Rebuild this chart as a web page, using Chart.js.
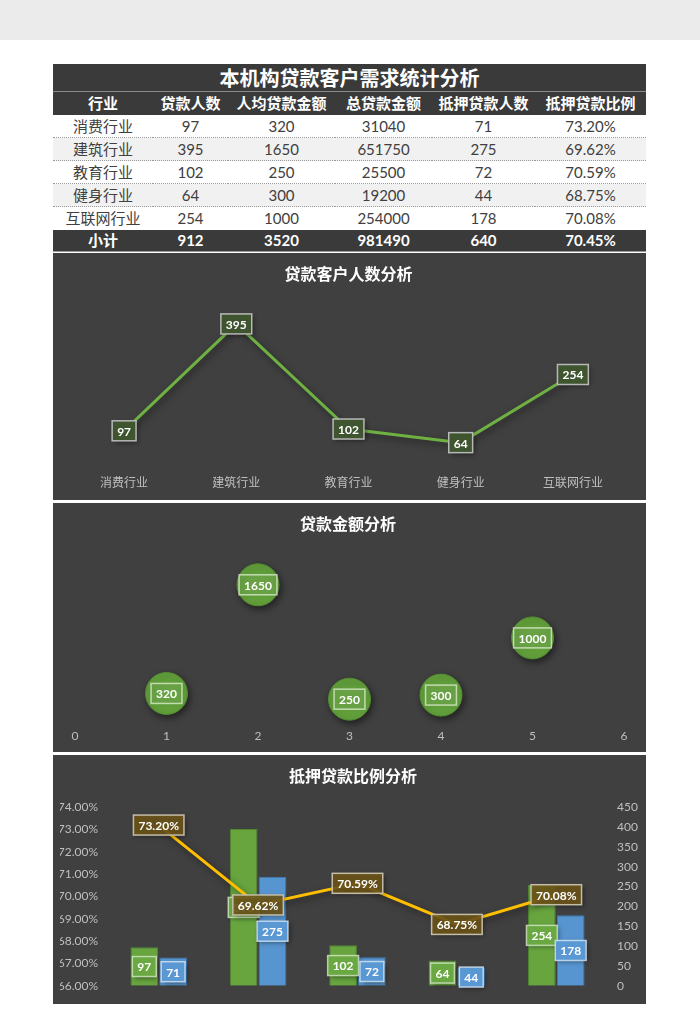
<!DOCTYPE html>
<html>
<head>
<meta charset="utf-8">
<script src="https://cdn.jsdelivr.net/npm/chart.js@4/dist/chart.umd.min.js"></script>
<style>
  body { margin: 0; background: #fff; font-family: Lato, "Noto Sans CJK SC", sans-serif; }
  .topband { height: 40px; background: #ebebeb; }
  .wrap { position: absolute; left: 53px; top: 64px; width: 593px; }
  table { border-collapse: collapse; width: 593px; table-layout: fixed; }
  td, th { padding: 0; text-align: center; white-space: nowrap; line-height: 1; }
  .title td { background: #3a3a3a; color: #fff; font-size: 20px; font-weight: bold; height: 27px; border-bottom: 1px solid #8a8a8a; }
  .head th { background: #3a3a3a; color: #fff; font-size: 15px; height: 23px; }
  .row td { color: #404040; font-size: 15px; height: 22px; border-bottom: 1px dotted #9a9a9a; }
  .row.alt td { background: #f1f1f1; }
  .row.last td { border-bottom: none; height: 23px; }
  .total td { background: #3a3a3a; color: #fff; font-size: 15px; font-weight: bold; height: 21px; border-bottom: 1px solid #9a9a9a; }
  .panel { background: #404040; }
  canvas { display: block; }
</style>
</head>
<body>
<div class="topband"></div>
<div class="wrap">
  <table id="tbl">
    <colgroup>
      <col style="width:100px"><col style="width:75px"><col style="width:107px">
      <col style="width:97px"><col style="width:103px"><col style="width:111px">
    </colgroup>
  </table>
  <div class="panel" style="margin-top:1px"><canvas id="peopleChart" width="593" height="247"></canvas></div>
  <div class="panel" style="margin-top:3px"><canvas id="amountChart" width="593" height="249"></canvas></div>
  <div class="panel" style="margin-top:3px"><canvas id="ratioChart" width="593" height="249"></canvas></div>
</div>
<script>
// data
var industries = ["消费行业", "建筑行业", "教育行业", "健身行业", "互联网行业"];
var loanPeople = [97, 395, 102, 64, 254];
var avgAmount = [320, 1650, 250, 300, 1000];
var totalAmount = [31040, 651750, 25500, 19200, 254000];
var mortgagePeople = [71, 275, 72, 44, 178];
var mortgageRatio = [73.20, 69.62, 70.59, 68.75, 70.08];
var headers = ["行业", "贷款人数", "人均贷款金额", "总贷款金额", "抵押贷款人数", "抵押贷款比例"];
var subtotal = ["小计", "912", "3520", "981490", "640", "70.45%"];
var tableTitle = "本机构贷款客户需求统计分析";

//Build the table
const tbl = document.getElementById('tbl');
let html = '<tr class="title"><td colspan="6">' + tableTitle + '</td></tr>';
html += '<tr class="head">' + headers.map(h => '<th>' + h + '</th>').join('') + '</tr>';
industries.forEach((name, i) => {
  let cls = 'row' + (i % 2 ? ' alt' : '') + (i === industries.length - 1 ? ' last' : '');
  html += '<tr class="' + cls + '"><td>' + name + '</td><td>' + loanPeople[i] + '</td><td>' + avgAmount[i] +
    '</td><td>' + totalAmount[i] + '</td><td>' + mortgagePeople[i] + '</td><td>' + mortgageRatio[i].toFixed(2) + '%</td></tr>';
});
html += '<tr class="total">' + subtotal.map(s => '<td>' + s + '</td>').join('') + '</tr>';
tbl.insertAdjacentHTML('beforeend', html);

Chart.defaults.font.family = 'Lato, "Noto Sans CJK SC", sans-serif';
Chart.defaults.color = '#bfbfbf';

// boxed data labels drawn at the element positions
const boxLabels = {
  id: 'boxLabels',
  afterDatasetsDraw(chart) {
    const ctx = chart.ctx;
    chart.data.datasets.forEach((ds, i) => {
      if (!ds.box) return;
      const meta = chart.getDatasetMeta(i);
      meta.data.forEach((el, j) => {
        let raw = ds.data[j];
        let v = (typeof raw === 'object') ? raw.y : raw;
        let text = ds.box.format ? ds.box.format(v) : String(v);
        let x = el.x, y = el.y;
        if (meta.type === 'bar') y = (el.y + el.base) / 2;
        ctx.save();
        ctx.font = 'bold 12px Lato, "Noto Sans CJK SC"';
        let w = ctx.measureText(text).width + 10, h = 20;
        ctx.shadowColor = 'rgba(0,0,0,0.45)';
        ctx.shadowBlur = 5; ctx.shadowOffsetX = 2; ctx.shadowOffsetY = 2;
        ctx.fillStyle = ds.box.fill;
        ctx.fillRect(x - w / 2, y - h / 2, w, h);
        ctx.shadowColor = 'transparent';
        ctx.strokeStyle = ds.box.stroke;
        ctx.lineWidth = 1.5;
        ctx.strokeRect(x - w / 2, y - h / 2, w, h);
        ctx.fillStyle = '#fff';
        ctx.textAlign = 'center';
        ctx.textBaseline = 'middle';
        ctx.fillText(text, x, y + 1);
        ctx.restore();
      });
    });
  }
};

// soft shadow under marks
const markShadow = {
  id: 'markShadow',
  beforeDatasetDraw(chart, args) {
    const ds = chart.data.datasets[args.index];
    chart.ctx.save();
    if (ds.shadow) {
      chart.ctx.shadowColor = 'rgba(0,0,0,0.5)';
      chart.ctx.shadowBlur = 7;
      chart.ctx.shadowOffsetX = 2;
      chart.ctx.shadowOffsetY = 3;
    }
  },
  afterDatasetDraw(chart) {
    chart.ctx.restore();
  }
};

function titleOpts(text, bottom) {
  return {
    display: true, text: text, color: '#fff',
    font: { size: 16, weight: 'bold' },
    padding: { top: 12, bottom: bottom }
  };
}

//Loan people line chart
new Chart(document.getElementById('peopleChart'), {
  type: 'line',
  data: {
    labels: industries,
    datasets: [{
      data: loanPeople,
      borderColor: '#6fb043',
      borderWidth: 3,
      pointRadius: 0,
      tension: 0,
      shadow: true,
      box: { fill: '#3e5530', stroke: '#b8b8b8' }
    }]
  },
  options: {
    responsive: false,
    animation: false,
    layout: { padding: { left: 15, right: 17, bottom: 0 } },
    plugins: { legend: { display: false }, tooltip: { enabled: false }, title: titleOpts('贷款客户人数分析', 20) },
    scales: {
      x: { offset: true, grid: { display: false, drawTicks: false }, border: { display: false },
           ticks: { padding: 10, color: '#bfbfbf', font: { size: 12 } } },
      y: { display: false, min: 0, max: 450 }
    }
  },
  plugins: [markShadow, boxLabels]
});

//Average amount bubble chart
new Chart(document.getElementById('amountChart'), {
  type: 'bubble',
  data: {
    datasets: [{
      data: avgAmount.map((v, i) => ({ x: i + 1, y: v })),
      radius: 21,
      backgroundColor: '#62a03b',
      borderColor: '#548c31',
      borderWidth: 1,
      shadow: true,
      clip: false,
      box: { fill: 'rgba(255,255,255,0.06)', stroke: 'rgba(225,240,215,0.75)' }
    }]
  },
  options: {
    responsive: false,
    animation: false,
    layout: { padding: { left: 17, right: 20, bottom: 0 } },
    plugins: { legend: { display: false }, tooltip: { enabled: false }, title: titleOpts('贷款金额分析', 22) },
    scales: {
      x: { type: 'linear', min: 0, max: 6, grid: { display: false, drawTicks: false }, border: { display: false },
           ticks: { stepSize: 1, padding: 9, color: '#bfbfbf', font: { size: 12 } } },
      y: { display: false, min: 0, max: 2000 }
    }
  },
  plugins: [markShadow, boxLabels]
});

//Mortgage ratio bar + line chart
new Chart(document.getElementById('ratioChart'), {
  type: 'bar',
  data: {
    labels: industries,
    datasets: [{
      type: 'bar',
      data: loanPeople,
      yAxisID: 'y1',
      backgroundColor: '#68a53f',
      borderColor: '#4f8a2e',
      borderWidth: 1,
      barPercentage: 0.96,
      categoryPercentage: 0.58,
      order: 2,
      box: { fill: '#6aa842', stroke: 'rgba(230,245,220,0.7)' }
    }, {
      type: 'bar',
      data: mortgagePeople,
      yAxisID: 'y1',
      backgroundColor: '#5795d0',
      borderColor: '#3d7dbd',
      borderWidth: 1,
      barPercentage: 0.96,
      categoryPercentage: 0.58,
      order: 2,
      box: { fill: '#5a98d3', stroke: 'rgba(225,238,250,0.75)' }
    }, {
      type: 'line',
      data: mortgageRatio,
      yAxisID: 'y',
      borderColor: '#ffbf00',
      borderWidth: 3,
      pointRadius: 0,
      tension: 0,
      order: 1,
      shadow: true,
      box: { fill: 'rgba(108,84,24,0.88)', stroke: '#c4bda8', format: v => v.toFixed(2) + '%' }
    }]
  },
  options: {
    responsive: false,
    animation: false,
    layout: { padding: { left: 7, right: 0, bottom: 11 } },
    plugins: { legend: { display: false }, tooltip: { enabled: false }, title: titleOpts('抵押贷款比例分析', 21) },
    scales: {
      x: { display: false, offset: true },
      y: {
        position: 'left', min: 66, max: 74,
        grid: { display: false, drawTicks: false }, border: { display: false },
        ticks: { stepSize: 1, padding: 11, color: '#bfbfbf', font: { size: 12 }, callback: v => v.toFixed(2) + '%' },
        afterFit: s => { s.width = 49; }
      },
      y1: {
        position: 'right', min: 0, max: 450,
        grid: { display: false, drawTicks: false }, border: { display: false },
        ticks: { stepSize: 50, padding: 11, color: '#bfbfbf', font: { size: 12 } },
        afterFit: s => { s.width = 40; }
      }
    }
  },
  plugins: [markShadow, boxLabels]
});
</script>
</body>
</html>
